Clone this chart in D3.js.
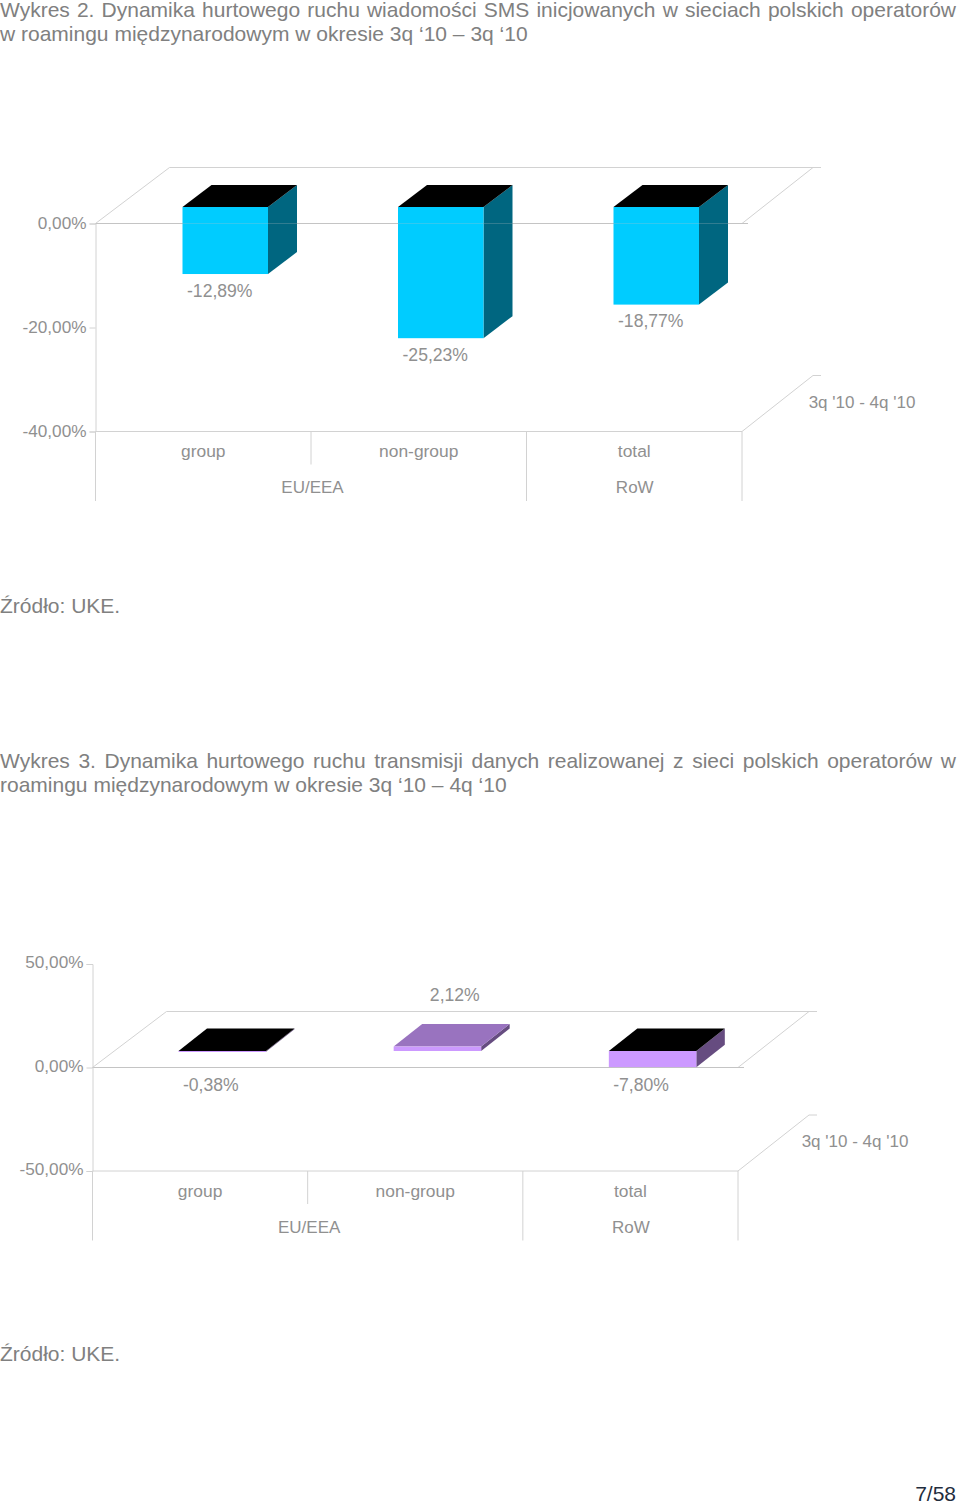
<!DOCTYPE html>
<html>
<head>
<meta charset="utf-8">
<script src="https://cdn.jsdelivr.net/npm/d3@7"></script>
<style>
  html, body { margin: 0; padding: 0; background: #fff; }
  text { font-family: "Liberation Sans", Arial, sans-serif; }
</style>
</head>
<body>
<div id="page"></div>
<script>
const categories = ["group", "non-group", "total"];
const groups = ["EU/EEA", "RoW"];
const seriesName = "3q '10 - 4q '10";

const smsValues = [-12.89, -25.23, -18.77];
const smsTicks = [0, -20, -40];
const dataValues = [-0.38, 2.12, -7.8];
const dataTicks = [50, 0, -50];

const title2 = [
  "Wykres 2. Dynamika hurtowego ruchu wiadomości SMS inicjowanych w sieciach polskich operatorów",
  "w roamingu międzynarodowym w okresie 3q ‘10 – 3q ‘10",
];
const title3 = [
  "Wykres 3. Dynamika hurtowego ruchu transmisji danych realizowanej z sieci polskich operatorów w",
  "roamingu międzynarodowym w okresie 3q ‘10 – 4q ‘10",
];
const source = "Źródło: UKE.";
const pageNumber = "7/58";

const width = 960,
  height = 1502;
const gridColor = "#d2d2d2",
  textColor = "#909090",
  titleColor = "#808080";

const svg = d3
  .select("#page")
  .append("svg")
  .attr("width", width)
  .attr("height", height)
  .style("display", "block");

const fmt = (v) => v.toFixed(2).replace(".", ",") + "%";

// justified first line, plain second line
function drawTitle(lines, y) {
  lines.forEach((line, i) => {
    const t = svg
      .append("text")
      .attr("x", 0)
      .attr("y", y + i * 24)
      .attr("font-size", 21)
      .attr("fill", titleColor)
      .text(line);
    if (i === 0) {
      const extra = 956 - t.node().getComputedTextLength();
      t.attr("word-spacing", extra / (line.split(" ").length - 1));
    }
  });
}

function plainText(txt, x, y, size, color, anchor) {
  svg
    .append("text")
    .attr("x", x)
    .attr("y", y)
    .attr("font-size", size)
    .attr("fill", color)
    .attr("text-anchor", anchor || "start")
    .text(txt);
}

function drawChart(cfg) {
  const g = svg.append("g");
  const y = d3.scaleLinear().domain(cfg.domain).range(cfg.yRange);
  const x = d3.scaleBand().domain(categories).range([cfg.left, cfg.right]);
  const y0 = y(0);
  const yBottom = y(cfg.domainMin);
  const line = (x1, y1, x2, y2, c) =>
    g
      .append("line")
      .attr("x1", x1)
      .attr("y1", y1)
      .attr("x2", x2)
      .attr("y2", y2)
      .attr("stroke", c || gridColor)
      .attr("stroke-width", 1);

  // floor and wall edges
  line(cfg.left, y0, cfg.left + cfg.floorDx, y0 - cfg.floorDy);
  line(cfg.left + cfg.floorDx, y0 - cfg.floorDy, cfg.right + cfg.floorDx + 5, y0 - cfg.floorDy);
  line(cfg.right, y0, cfg.right + cfg.floorDx - 3, y0 - cfg.floorDy);
  line(cfg.right, yBottom, cfg.right + cfg.floorDx - 3, yBottom - cfg.floorDy);
  line(cfg.right + cfg.floorDx - 3, yBottom - cfg.floorDy, cfg.right + cfg.floorDx + 5, yBottom - cfg.floorDy);
  line(cfg.left, y0, cfg.right + 6, y0, "#c4c4c4");
  line(cfg.left, yBottom, cfg.right, yBottom);

  // value axis
  const axis = d3
    .axisLeft(y)
    .tickValues(cfg.ticks)
    .tickSize(6)
    .tickPadding(3)
    .tickFormat(fmt);
  const axisG = g.append("g").attr("transform", `translate(${cfg.left},0)`).call(axis);
  axisG.select(".domain").attr("stroke", gridColor);
  axisG.selectAll(".tick line").attr("stroke", gridColor);
  axisG
    .selectAll(".tick text")
    .attr("fill", textColor)
    .attr("font-size", 17.2)
    .attr("transform", `translate(0,${cfg.tickShift})`)
    .style("font-family", '"Liberation Sans", Arial, sans-serif');

  // category table under the plot
  line(cfg.left, yBottom, cfg.left, yBottom + 69.5);
  line(x("non-group"), yBottom, x("non-group"), yBottom + 33);
  line(x("total"), yBottom, x("total"), yBottom + 69.5);
  line(cfg.right, yBottom, cfg.right, yBottom + 69.5);

  g.selectAll(".cat")
    .data(categories)
    .enter()
    .append("text")
    .attr("class", "cat")
    .attr("x", (d) => x(d) + x.bandwidth() / 2)
    .attr("y", yBottom + 25.5)
    .attr("text-anchor", "middle")
    .attr("font-size", 17.4)
    .attr("fill", textColor)
    .text((d) => d);
  g.selectAll(".grp")
    .data(groups)
    .enter()
    .append("text")
    .attr("class", "grp")
    .attr("x", (d, i) => (i === 0 ? x("non-group") + 1.5 : x("total") + x.bandwidth() / 2 + 0.5))
    .attr("y", yBottom + 61.5)
    .attr("text-anchor", "middle")
    .attr("font-size", 17)
    .attr("fill", textColor)
    .text((d) => d);

  plainText(seriesName, cfg.right + cfg.seriesDx, yBottom - 24, 17, textColor, "middle");

  // 3d bars, the front face is shifted into the floor by barLift
  const base = y0 - cfg.barLift;
  const perPoint = (y(-10) - y(0)) / 10;
  const pts = (p) => p.map((q) => q.join(",")).join(" ");
  cfg.values.forEach((v, i) => {
    const x0 = x(categories[i]) + cfg.barOffset;
    const x1 = x0 + cfg.barWidth;
    const yEnd = base - v * perPoint;
    const top = Math.min(base, yEnd);
    const bot = Math.max(base, yEnd);
    const dx = cfg.barDx,
      dy = cfg.barDy;
    g.append("polygon")
      .attr("points", pts([[x1, top], [x1 + dx, top - dy], [x1 + dx, bot - dy], [x1, bot]]))
      .attr("fill", cfg.sideColor);
    g.append("polygon")
      .attr("points", pts([[x0, top], [x0 + dx, top - dy], [x1 + dx, top - dy], [x1, top]]))
      .attr("fill", v < 0 ? "#000" : cfg.topColor);
    g.append("rect")
      .attr("x", x0)
      .attr("y", top)
      .attr("width", cfg.barWidth)
      .attr("height", Math.max(bot - top, 1))
      .attr("fill", cfg.frontColor);
    // short bars push their label clear of the zero line
    const labelY = v < 0 ? Math.max(bot + cfg.labelGap, y0 + 23) : top - cfg.labelGapUp;
    g.append("text")
      .attr("x", x0 + cfg.barWidth / 2 + (v < 0 ? cfg.labelDx : cfg.labelDxUp))
      .attr("y", labelY)
      .attr("text-anchor", "middle")
      .attr("font-size", 17.6)
      .attr("fill", textColor)
      .text(fmt(v));
  });

  // the zero line shows faintly through the bars
  line(cfg.left, y0, cfg.right + 6, y0, "#c4c4c4").attr("opacity", 0.25);
}

drawTitle(title2, 16.7);
drawChart({
  values: smsValues,
  ticks: smsTicks,
  domain: [0, -40],
  domainMin: -40,
  yRange: [223.5, 431.5],
  left: 95.5,
  right: 742,
  floorDx: 74,
  floorDy: 56,
  seriesDx: 120,
  tickShift: -1,
  barLift: 16.5,
  barOffset: 87,
  barWidth: 85.5,
  barDx: 29,
  barDy: 22,
  labelDx: -5.5,
  labelDxUp: 0,
  labelGap: 22.5,
  labelGapUp: 30,
  frontColor: "#00ccff",
  sideColor: "#006680",
  topColor: "#0099bf",
});
plainText(source, 0, 613, 21, titleColor);

drawTitle(title3, 768);
drawChart({
  values: dataValues,
  ticks: dataTicks,
  domain: [50, -50],
  domainMin: -50,
  yRange: [964, 1171],
  left: 92.5,
  right: 738,
  floorDx: 74,
  floorDy: 56,
  seriesDx: 117,
  tickShift: -2,
  barLift: 16.5,
  barOffset: 86,
  barWidth: 87.5,
  barDx: 28.5,
  barDy: 22.5,
  labelDx: -11.5,
  labelDxUp: 17.4,
  labelGap: 23,
  labelGapUp: 46,
  frontColor: "#cc99ff",
  sideColor: "#664c80",
  topColor: "#9973bf",
});
plainText(source, 0, 1361, 21, titleColor);
plainText(pageNumber, 956, 1501, 21, "#1f2d3d", "end");
</script>
</body>
</html>
